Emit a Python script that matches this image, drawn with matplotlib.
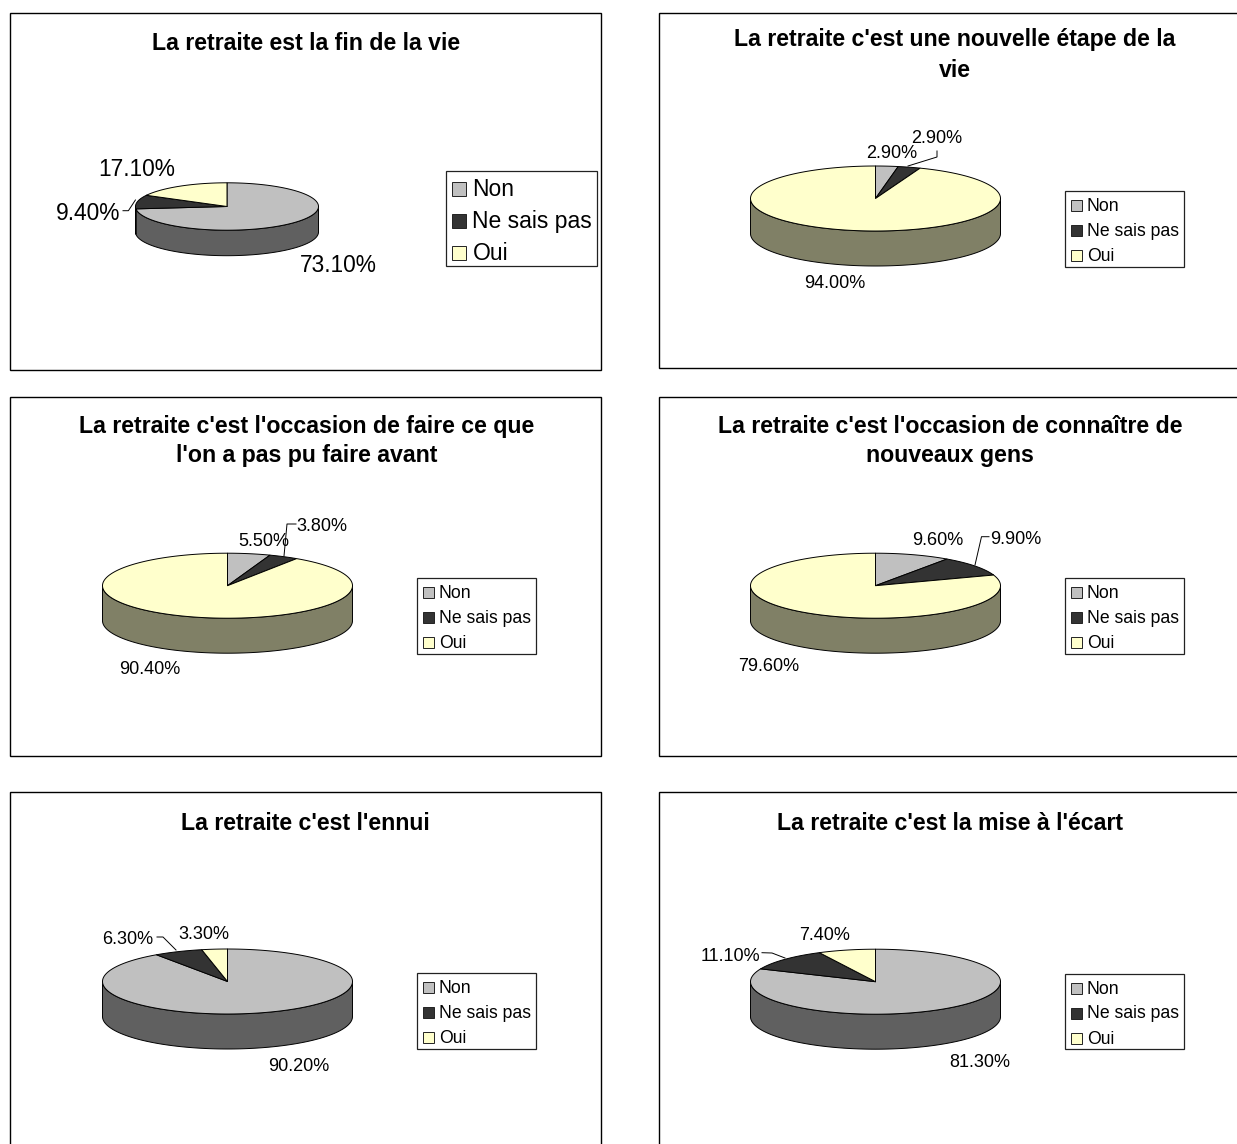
import numpy as np
import matplotlib
matplotlib.use("Agg")
import matplotlib.pyplot as plt
from matplotlib.patches import Polygon, Rectangle

plt.rcParams['font.family'] = ['Liberation Sans', 'DejaVu Sans']

# Donnees
categories = ['Non', 'Ne sais pas', 'Oui']
titles = [
    "La retraite est la fin de la vie",
    "La retraite c'est une nouvelle étape de la\nvie",
    "La retraite c'est l'occasion de faire ce que\nl'on a pas pu faire avant",
    "La retraite c'est l'occasion de connaître de\nnouveaux gens",
    "La retraite c'est l'ennui",
    "La retraite c'est la mise à l'écart",
]
non_values = [73.1, 2.9, 5.5, 9.6, 90.2, 81.3]
nsp_values = [9.4, 2.9, 3.8, 9.9, 6.3, 11.1]
oui_values = [17.1, 94.0, 90.4, 79.6, 3.3, 7.4]

# Couleurs
top_colors = ['#C0C0C0', '#333333', '#FFFFCC']
side_colors = ['#606060', '#1A1A1A', '#808066']

# Mise en page, en pixels de l'image
frames = [(10, 13, 601, 370), (659, 13, 1245, 368), (10, 397, 601, 756),
          (659, 397, 1245, 756), (10, 792, 601, 1160), (659, 792, 1245, 1160)]
pie_boxes = [(227, 206.5, 91.5, 23.7, 25.5), (875.5, 198.5, 125, 32.5, 35),
             (227.5, 585.7, 125, 32.5, 35), (875.5, 585.7, 125, 32.5, 35),
             (227.5, 981.5, 125, 32.5, 35), (875.5, 981.7, 125, 32.5, 35)]
legend_boxes = [(445.5, 170.5, 597, 266), (1065, 191, 1184, 267),
                (417, 578, 536, 654), (1065, 578, 1184, 653.5),
                (417, 973, 536, 1049), (1065, 974, 1184, 1049)]
title_pos = [(306, 43), (954.5, 55), (306.5, 441), (950, 441), (305.5, 823), (950, 823)]
title_spacing = [1.34, 1.43, 1.34, 1.34, 1.34, 1.34]
label_pos = [
    [(338, 266), (88, 213), (137, 169)],
    [(892, 153.5), (937, 138.5), (835, 283.5)],
    [(264, 541.5), (322, 526.5), (150, 669.5)],
    [(938, 540.5), (1016, 539.5), (769, 666.5)],
    [(299, 1066.5), (128, 939.5), (204, 934.5)],
    [(980, 1062.5), (730, 956.5), (825, 935.5)],
]
leaders = [
    [(123, 210.7), (128.4, 210.7), (135.4, 200)],
    [(937, 151), (937, 157), (908, 166)],
    [(296, 524), (287, 524), (284, 556)],
    [(989, 536.7), (981.5, 536.7), (975, 565)],
    [(157, 937), (163, 937), (176, 950)],
    [(762, 952.7), (772, 953), (785, 958)],
]
label_sizes = [16.4, 13, 13, 13, 13, 13]
legend_sizes = [16.5, 12.7, 12.7, 12.7, 12.7, 12.7]
swatches = [14, 11, 11, 11, 11, 11]
text_offsets = [27, 22, 22, 22, 22, 22]
row_shifts = [3, 2, 2, 2, 2, 2]


def ellipse_points(box, t1, t2, dy=0):
    # t en degres, 0 = midi, sens horaire
    cx, cy, rx, ry, depth = box
    t = np.radians(np.linspace(t1, t2, max(int(abs(t2 - t1)), 2) + 1))
    return np.column_stack([cx + rx * np.sin(t), cy - ry * np.cos(t) + dy])


def draw_pie(ax, box, values, colors_top, colors_side):
    values = np.array(values, dtype=float)
    edges = np.concatenate([[0], np.cumsum(values / values.sum() * 360)])

    # Flanc du cylindre: seulement la moitie avant
    for i in range(len(values)):
        t1, t2 = max(edges[i], 90), min(edges[i + 1], 270)
        if t2 <= t1:
            continue
        upper = ellipse_points(box, t1, t2)
        lower = ellipse_points(box, t1, t2, box[4])[::-1]
        ax.add_patch(Polygon(np.vstack([upper, lower]), facecolor=colors_side[i],
                             edgecolor='black', linewidth=0.7, zorder=2))

    # Dessus
    for i in range(len(values)):
        arc = ellipse_points(box, edges[i], edges[i + 1])
        pts = np.vstack([[box[:2]], arc])
        ax.add_patch(Polygon(pts, facecolor=colors_top[i], edgecolor='black',
                             linewidth=0.7, joinstyle='round', zorder=3))


def draw_legend(ax, box, size, swatch, text_offset, row_shift):
    x0, y0, x1, y1 = box
    ax.add_patch(Rectangle((x0, y0), x1 - x0, y1 - y0, facecolor='white',
                           edgecolor='#222222', linewidth=0.9, zorder=2))
    row_h = (y1 - y0) / 3
    for i, name in enumerate(categories):
        y = y0 + row_h * (i + 0.5) - 0.5 + row_shift
        ax.add_patch(Rectangle((x0 + 6, y - swatch / 2), swatch, swatch, facecolor=top_colors[i],
                               edgecolor='#222222', linewidth=0.7, zorder=3))
        ax.text(x0 + text_offset, y + 1, name, fontsize=size, ha='left', va='center',
                color='black', zorder=4)


fig = plt.figure(figsize=(12.37, 11.44), dpi=100)
ax = fig.add_axes([0, 0, 1, 1])
ax.set_xlim(0, 1237)
ax.set_ylim(1144, 0)
ax.axis('off')

for i in range(6):
    x0, y0, x1, y1 = frames[i]
    ax.add_patch(Rectangle((x0, y0), x1 - x0, y1 - y0, facecolor='white',
                           edgecolor='black', linewidth=1.0, zorder=1))
    ax.text(title_pos[i][0], title_pos[i][1], titles[i], fontsize=16.66, fontweight='bold',
            ha='center', va='center', linespacing=title_spacing[i], zorder=4)

    values = [non_values[i], nsp_values[i], oui_values[i]]
    draw_pie(ax, pie_boxes[i], values, top_colors, side_colors)
    draw_legend(ax, legend_boxes[i], legend_sizes[i], swatches[i], text_offsets[i], row_shifts[i])

    for value, pos in zip(values, label_pos[i]):
        ax.text(pos[0], pos[1], f"{value:.2f}%", fontsize=label_sizes[i], ha='center',
                va='center', color='black', zorder=5)
    xs, ys = zip(*leaders[i])
    ax.plot(xs, ys, color='black', linewidth=0.7, zorder=4)

fig.savefig("out.png", dpi=100)
